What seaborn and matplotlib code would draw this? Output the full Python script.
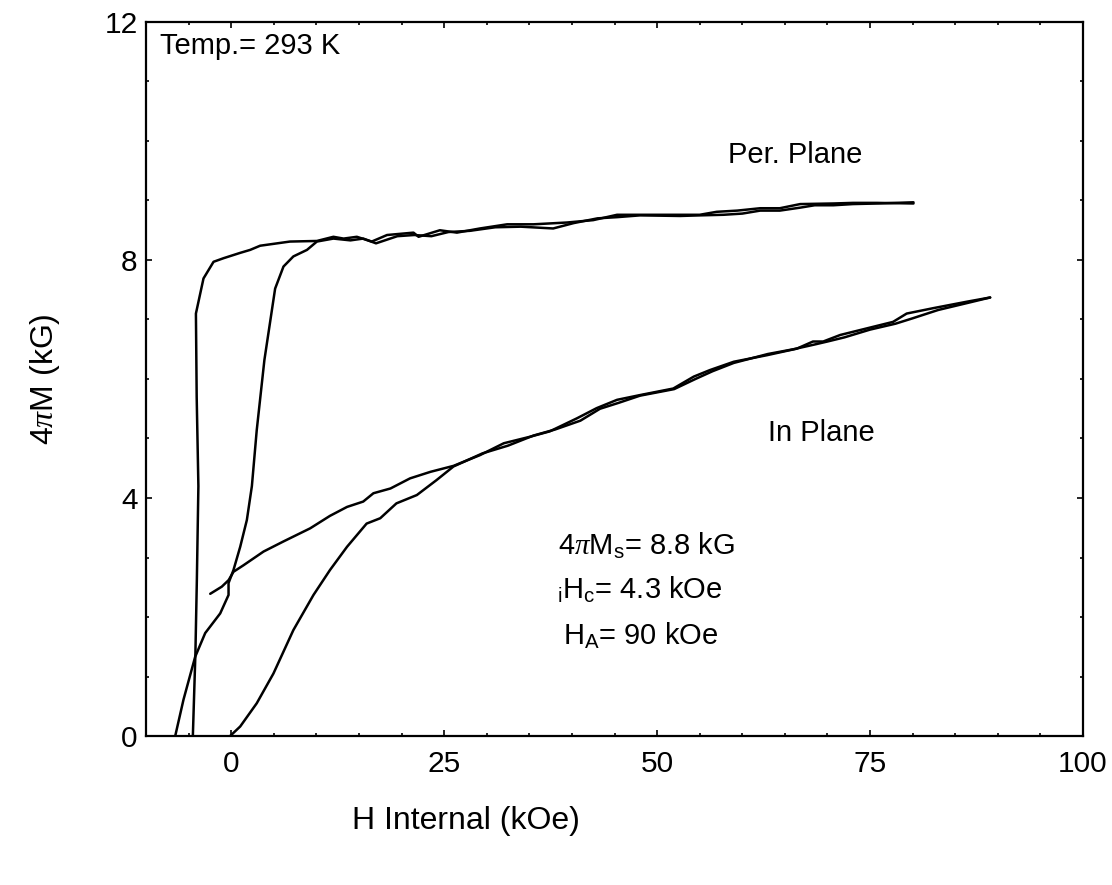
import numpy as np
import pandas as pd
import matplotlib
matplotlib.use("Agg")
import matplotlib.pyplot as plt
from matplotlib.ticker import MultipleLocator
import seaborn as sns

# ---- data ----
per_desc_h = [80.1, 75.8, 73.0, 70.7, 66.8, 64.4, 62.1, 59.4, 57.0, 55.0, 50.0, 45.3, 42.5, 39.4,
              35.5, 32.4, 29.2, 26.5, 24.5, 22.0, 21.4, 18.3, 16.5, 14.75, 13.2, 12.0, 10.06, 6.9,
              3.4, 2.23, 1.06, -0.9, -2.07, -3.25, -4.14, -4.05, -3.85, -4.03, -4.2, -4.5]
per_desc_m = [8.95, 8.96, 8.96, 8.95, 8.94, 8.87, 8.87, 8.83, 8.81, 8.76, 8.76, 8.76, 8.67, 8.63,
              8.60, 8.60, 8.53, 8.46, 8.50, 8.39, 8.46, 8.42, 8.31, 8.39, 8.36, 8.39, 8.32, 8.31,
              8.24, 8.17, 8.12, 8.03, 7.97, 7.69, 7.10, 5.70, 4.20, 2.62, 1.39, 0.0]

per_asc_h = [-6.57, -5.6, -4.23, -3.05, -1.29, -0.31, -0.31, 0.27, 1.06, 1.84, 2.43, 3.0, 3.9,
             5.16, 6.14, 7.3, 8.9, 10.06, 12.0, 14.0, 15.5, 17.0, 19.5, 21.5, 23.5, 25.5, 28.0,
             31.0, 34.0, 37.8, 40.2, 43.0, 45.3, 48.0, 52.7, 55.0, 57.8, 60.0, 62.1, 64.4, 66.8,
             68.5, 70.7, 73.0, 76.0, 80.1]
per_asc_m = [0.0, 0.61, 1.33, 1.73, 2.06, 2.37, 2.57, 2.79, 3.18, 3.63, 4.20, 5.14, 6.32,
             7.52, 7.89, 8.06, 8.17, 8.31, 8.36, 8.33, 8.36, 8.28, 8.40, 8.42, 8.40, 8.47, 8.49,
             8.55, 8.56, 8.53, 8.62, 8.70, 8.72, 8.75, 8.74, 8.75, 8.76, 8.78, 8.83, 8.83, 8.88,
             8.92, 8.92, 8.94, 8.95, 8.97]

in_up_h = [-2.46, -1.1, -0.3, 0.27, 1.45, 3.8, 6.14, 9.27, 11.6, 13.6, 15.5, 16.7, 18.7, 21.0,
           23.4, 26.1, 29.2, 32.0, 35.1, 37.4, 40.6, 42.9, 45.3, 48.0, 51.9, 54.3, 56.2, 59.0,
           62.9, 66.4, 68.3, 69.5, 71.5, 74.6, 77.7, 79.3, 82.4, 86.4, 89.1]
in_up_m = [2.39, 2.51, 2.62, 2.76, 2.87, 3.10, 3.27, 3.49, 3.70, 3.85, 3.94, 4.08, 4.16, 4.33,
           4.44, 4.54, 4.72, 4.92, 5.03, 5.12, 5.34, 5.51, 5.65, 5.73, 5.84, 6.04, 6.15, 6.29,
           6.40, 6.51, 6.63, 6.63, 6.74, 6.85, 6.96, 7.10, 7.19, 7.30, 7.37]

in_lo_h = [-0.12, 1.06, 3.0, 4.96, 7.3, 9.66, 11.6, 13.6, 15.9, 17.5, 19.4, 21.8, 24.1, 26.1,
           29.5, 32.5, 35.5, 38.0, 41.0, 43.3, 45.5, 48.0, 52.0, 54.5, 56.5, 59.0, 63.0, 66.0,
           68.5, 70.0, 72.0, 75.0, 78.0, 80.0, 83.0, 86.5, 89.1]
in_lo_m = [0.0, 0.16, 0.55, 1.05, 1.78, 2.37, 2.79, 3.18, 3.57, 3.66, 3.91, 4.05, 4.30, 4.53,
           4.75, 4.88, 5.05, 5.15, 5.30, 5.50, 5.60, 5.72, 5.83, 6.00, 6.13, 6.27, 6.42, 6.50,
           6.58, 6.63, 6.70, 6.83, 6.93, 7.02, 7.16, 7.28, 7.37]

x_ticks = [0, 25, 50, 75, 100]
y_ticks = [0, 4, 8, 12]

# ---- build frame ----
frames = []
for name, h, m in [("per_desc", per_desc_h, per_desc_m), ("per_asc", per_asc_h, per_asc_m),
                   ("in_up", in_up_h, in_up_m), ("in_lo", in_lo_h, in_lo_m)]:
    frames.append(pd.DataFrame({"H": h, "M": m, "branch": name, "order": range(len(h))}))
df = pd.concat(frames, ignore_index=True)

sns.set_style("ticks")
fam = ["Liberation Sans", "DejaVu Sans"]
plt.rcParams["font.family"] = fam
plt.rcParams["mathtext.fontset"] = "custom"
plt.rcParams["mathtext.rm"] = "Liberation Sans"
plt.rcParams["mathtext.it"] = "Liberation Serif:italic"
for k in ["text.color", "axes.labelcolor", "xtick.color", "ytick.color", "axes.edgecolor"]:
    plt.rcParams[k] = "black"

fig = plt.figure(figsize=(11.12, 8.85), dpi=100)
ax = fig.add_axes([146/1112, 1-736/885, (1083-146)/1112, (736-22)/885])

for name in ["per_desc", "per_asc", "in_up", "in_lo"]:
    sub = df[df["branch"] == name]
    sns.lineplot(data=sub, x="H", y="M", sort=False, estimator=None, color="black",
                 linewidth=1.8, ax=ax, legend=False)

ax.set_xlim(-10, 100)
ax.set_ylim(0, 12)
ax.set_xticks(x_ticks)
ax.set_yticks(y_ticks)
ax.xaxis.set_minor_locator(MultipleLocator(5))
ax.yaxis.set_minor_locator(MultipleLocator(1))
ax.tick_params(which="both", direction="in", top=True, right=True, width=1.2, color="black")
ax.tick_params(which="major", length=4, labelsize=21.5, pad=10)
ax.tick_params(axis="y", which="major", pad=6)
ax.tick_params(which="minor", length=2.5)
for s in ax.spines.values():
    s.set_linewidth(1.6)
    s.set_color("black")

ax.set_xlabel("H Internal (kOe)", fontsize=23)
ax.set_ylabel(r"4$\it{\pi}$M (kG)", fontsize=23)
ax.xaxis.set_label_coords((466-146)/937, -(806-736)/714)
ax.yaxis.set_label_coords((62-146)/937, 0.5)

ax.text(-8.3, 11.6, "Temp.= 293 K", fontsize=21, va="center", ha="left")
ax.text(58.3, 9.76, "Per. Plane", fontsize=21, va="center", ha="left")
ax.text(63.0, 5.1, "In Plane", fontsize=21, va="center", ha="left")
ax.text(38.4, 3.19, r"4$\it{\pi}$M$_{\rm s}$= 8.8 kG", fontsize=21, va="center", ha="left")
ax.text(38.3, 2.45, r"$_{\rm i}$H$_{\rm c}$= 4.3 kOe", fontsize=21, va="center", ha="left")
ax.text(38.9, 1.68, r"H$_{\rm A}$= 90 kOe", fontsize=21, va="center", ha="left")

fig.savefig("out.png", dpi=100, facecolor="white")
